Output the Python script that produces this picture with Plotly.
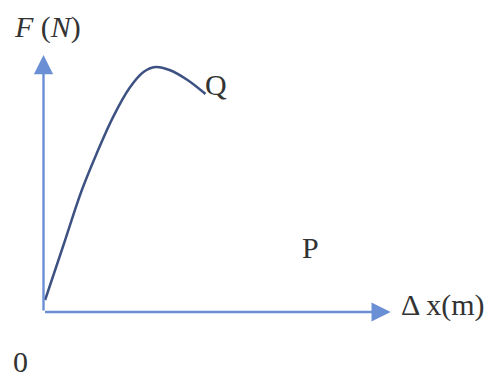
import plotly.graph_objects as go

# Force–extension curve (arbitrary units, origin at the axes' corner)
extension = [0.08, 1.0, 1.9, 2.66, 3.49, 4.3, 5.0, 5.6, 6.3, 7.2, 8.1]
force = [0.6, 3.35, 6.05, 7.93, 9.77, 11.2, 12.0, 12.25, 12.1, 11.6, 10.9]

# Axis extents and label positions
x_axis_end = 17.36
y_axis_end = 12.85
point_labels = ["Q", "P", "0"]
label_x = [8.0, 12.85, -1.6]
label_y = [11.4, 3.25, -2.45]

AXIS_BLUE = "#6b8fd4"
CURVE_NAVY = "#3d5282"
TEXT = "#333333"
SERIF = "Liberation Serif, Times New Roman, serif"
PX = 20.0  # pixels per unit
FS = 30

fig = go.Figure()
fig.add_trace(go.Scatter(
    x=extension, y=force, mode="lines",
    line=dict(color=CURVE_NAVY, width=2.5, shape="spline", smoothing=1.0),
    hoverinfo="skip", showlegend=False,
))

# axes drawn as arrows
fig.add_annotation(x=x_axis_end, y=0, ax=0, ay=0, xref="x", yref="y", axref="x", ayref="y",
                   showarrow=True, arrowhead=2, arrowsize=1.6, arrowwidth=2.4,
                   arrowcolor=AXIS_BLUE, text="", standoff=0)
fig.add_annotation(x=0, y=y_axis_end, ax=0, ay=0, xref="x", yref="y", axref="x", ayref="y",
                   showarrow=True, arrowhead=2, arrowsize=1.6, arrowwidth=2.4,
                   arrowcolor=AXIS_BLUE, text="", standoff=0)

for t, lx, ly in zip(point_labels, label_x, label_y):
    fig.add_annotation(x=lx, y=ly, text=t, showarrow=False, xanchor="left", yanchor="middle",
                       borderpad=0, font=dict(family=SERIF, size=FS, color=TEXT))

fig.add_annotation(x=-1.6, y=14.25, text="<i>F</i> (<i>N</i>)", showarrow=False,
                   xanchor="left", yanchor="middle", font=dict(family=SERIF, size=FS, color=TEXT))
fig.add_annotation(x=17.75, y=0.35, text="Δ x(m)", showarrow=False,
                   xanchor="left", yanchor="middle", font=dict(family=SERIF, size=FS, color=TEXT))

fig.update_layout(
    width=489, height=378, margin=dict(l=0, r=0, t=0, b=0),
    paper_bgcolor="white", plot_bgcolor="white",
    xaxis=dict(range=[-43.5 / PX, (489 - 43.5) / PX], visible=False, fixedrange=True),
    yaxis=dict(range=[(312 - 378) / PX, 312 / PX], visible=False, fixedrange=True),
)
fig.write_html("out.html")
